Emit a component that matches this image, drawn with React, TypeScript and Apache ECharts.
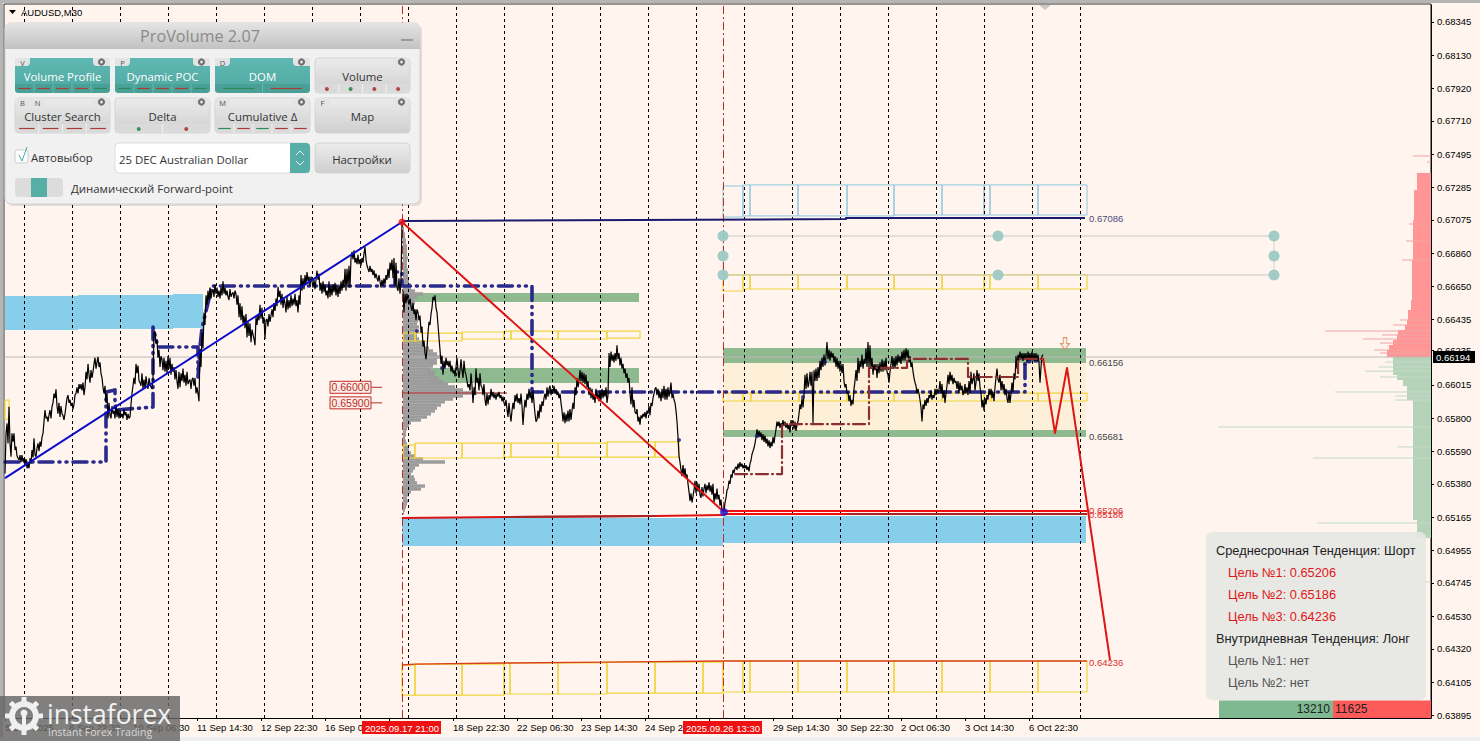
import React, { useEffect, useRef } from "react";
import * as echarts from "echarts";

// ---- data: prices are in 1e-5 units, bars are chart slots on the time axis ----
const priceTicks = [68345,68130,67920,67710,67495,67285,67075,66860,66650,66435,66235,66015,65800,65590,65380,65165,64955,64745,64530,64320,64105,63895];
const timeTicks = [5,69,133,197,261,325,389,453,517,581,645,709,773,837,901,965,1029];
const labelTicks = [5,69,133,197,261,325,453,517,581,645,773,837,901,965,1029];
const timeLabels = ["5 Sep 2025","8 Sep 22:30","10 Sep 06:30","11 Sep 14:30","12 Sep 22:30","16 Sep 06:30","18 Sep 22:30","22 Sep 06:30","23 Sep 14:30","24 Sep 22:30","29 Sep 14:30","30 Sep 22:30","2 Oct 06:30","3 Oct 14:30","6 Oct 22:30"];
const periodBars = [24,72,120,168,216,264,312,360,408,456,504,552,600,648,696,744,792,840,888,936,984,1032,1080];
const markedBars: [number, string][] = [[402,"2025.09.17 21:00"],[723,"2025.09.26 13:30"]];

const rallyPrices = [65447,65700,65768,65640,65875,65640,65554,65704,65650,65704,65597,65619,65560,65544,65533,65565,65520,65565,65522,65545,65512,65540,65480,65510,65480,65544,65510,65597,65550,65672,65565,65554,65610,65640,65590,65651,65619,65680,65704,65780,65854,65800,65811,65780,65822,65854,65800,65875,65900,65960,65930,65987,65880,65830,65900,65810,65880,65830,65820,65790,65830,65880,65930,65950,65900,65920,65880,65900,65860,65890,65950,65960,66000,65960,66020,65990,66020,65980,66030,65950,66000,66100,66050,66150,66080,66030,66110,66060,66100,66150,66190,66120,66160,66196,66130,66160,66090,66060,66000,65960,66010,65900,65960,65800,65900,65820,65800,65880,65830,65850,65800,65890,65810,65860,65800,65850,65810,65830,65800,65860,65820,65840,65790,65830,65800,65810,65890,65960,66010,66060,66020,66150,66090,66140,66040,66030,66010,66090,65990,66050,65990,66070,66020,65990,66060,66020,66000,65990,66060,66350,66360,66280,66300,66190,66240,66130,66200,66180,66110,66190,66100,66170,66090,66200,66120,66190,66080,66150,66100,66130,66050,66110,66040,65990,66100,66000,66090,66040,66120,66030,66080,66010,66100,66020,66040,66050,65990,66050,66060,66010,66060,65960,66000,65960,65910,66240,66130,66350,66250,66480,66400,66590,66530,66620,66560,66640,66570,66610,66630,66580,66660,66600,66640,66580,66620,66570,66640,66590,66680,66600,66640,66590,66620,66580,66560,66630,66580,66600,66610,66570,66620,66600,66530,66590,66450,66540,66430,66520,66410,66460,66380,66470,66320,66420,66330,66410,66290,66370,66340,66310,66270,66450,66400,66470,66430,66530,66440,66510,66410,66450,66310,66430,66440,66390,66470,66420,66460,66500,66450,66540,66490,66570,66520,66645,66580,66620,66530,66600,66510,66570,66540,66480,66580,66500,66560,66510,66590,66520,66570,66530,66600,66520,66560,66480,66590,66530,66720,66620,66700,66630,66720,66660,66740,66680,66710,66650,66710,66680,66640,66690,66630,66690,66750,66690,66730,66620,66670,66600,66680,66610,66660,66590,66620,66570,66680,66580,66650,66590,66660,66610,66670,66590,66650,66580,66660,66600,66680,66620,66690,66640,66760,66620,66760,66640,66780,66640,66830,66870,66820,66880,66800,66830,66790,66850,66790,66820,66780,66830,66800,66860,66900,66820,66780,66760,66740,66780,66740,66760,66720,66750,66700,66730,66700,66680,66720,66680,66640,66690,66650,66700,66660,66720,66690,66760,66700,66800,66750,66820,66700,66830,66650,66800,66640,66620,66700,66600,66680,67060];
const fallPrices = [66620,66480,66600,66540,66600,66560,66530,66570,66520,66490,66540,66470,66500,66430,66500,66480,66430,66460,66350,66390,66260,66300,66220,66180,66250,66350,66420,66400,66470,66510,66580,66560,66590,66510,66480,66400,66320,66240,66150,66200,66080,66170,66120,66190,66140,66170,66130,66170,66100,66140,66090,66110,66070,66130,66190,66110,66060,66110,66180,66110,66060,66170,66100,66080,66040,66000,66020,65980,66090,66010,65900,66000,65950,66120,66030,66060,65980,66090,66010,66000,65950,66020,65920,65880,65960,65890,65950,65920,65990,65940,65970,65930,65960,65920,65960,65940,65970,65930,65950,65910,65940,65900,65880,65920,65860,65810,65900,65830,65780,65850,65900,65860,65950,65910,65960,65900,65930,65890,65960,65880,65758,65850,65920,65870,65960,65920,65990,65930,65970,65900,65980,65900,65830,65780,65790,65850,65800,65890,65840,65910,65880,65930,65960,65920,66000,65940,65990,66010,65950,65990,65960,66010,65960,65990,65950,65970,65930,65960,65900,65850,65780,65840,65770,65830,65780,65850,65780,65860,65790,65850,65900,65860,66000,65950,66060,66000,66040,66110,66040,66100,66030,66090,66020,66080,66000,66040,65950,66000,65930,65990,65920,65950,65900,65990,65930,65960,65910,65980,65920,65990,65930,65980,65940,66000,65900,65950,66220,66130,66230,66170,66210,66160,66220,66170,66270,66180,66220,66140,66190,66120,66150,66090,66120,66060,66090,66030,66060,65960,65890,66000,65870,65920,65840,65830,65860,65780,65810,65760,65820,65800,65830,65810,65840,65800,65850,65830,65880,65820,65900,65880,65930,65960,65990,66000,65950,65990,65930,65970,65910,65990,65930,66010,65920,65990,65920,66000,65940,65980,66030,65930,65960,65920,65900,65850,65780,65680,65560,65520,65470,65430,65500,65430,65480,65420,65440,65380,65330,65270,65320,65260,65300,65340,65400,65320,65390,65330,65380,65310,65290,65360,65300,65350,65380,65320,65370,65340,65390,65330,65370,65310,65380,65260,65320,65280,65350,65280,65310,65240,65280,65210,65220];
const rangePrices = [65199,65260,65290,65340,65350,65400,65380,65440,65420,65470,65450,65480,65490,65470,65510,65480,65520,65490,65510,65480,65500,65480,65500,65470,65490,65460,65510,65530,65570,65590,65610,65640,65680,65730,65680,65720,65680,65710,65660,65700,65650,65690,65640,65670,65620,65660,65610,65650,65620,65680,65640,65690,65730,65780,65750,65780,65740,65770,65750,65790,65750,65780,65740,65770,65730,65760,65710,65790,65750,65790,65730,65780,65720,65760,65780,65830,65890,65860,65930,65870,65950,66080,65990,66090,66000,66030,66100,66010,66100,65770,66110,66040,66120,66040,66130,66060,66170,66110,66190,66130,66210,66140,66200,66290,66180,66240,66170,66230,66190,66220,66160,66200,66130,66190,66120,66170,66100,66150,66090,66150,66040,66000,66020,65960,65970,65910,65950,65880,65920,65890,65990,66040,66110,66040,66190,66090,66170,66130,66210,66120,66180,66150,66250,66130,66290,66130,66270,66120,66190,66080,66150,66110,66150,66060,66150,66090,66160,66100,66180,66100,66170,66110,66190,66100,66080,66030,66100,66150,66200,66120,66190,66120,66200,66140,66210,66160,66200,66150,66230,66170,66240,66170,66250,66190,66240,66160,66200,66130,66160,66100,66060,66030,66010,65960,65990,65960,65920,65870,65780,65890,65860,65920,65880,65930,65900,65950,65930,65980,65920,65950,65930,65990,65950,65990,65960,65980,66040,65960,66020,65930,65980,65900,65960,66010,66080,66020,66100,66040,66080,66020,66060,66030,66040,65990,66040,65960,66030,65980,66010,65950,65970,66020,65960,66000,65950,66040,65960,66100,66020,66050,66090,65980,66030,66110,66040,66090,66000,65960,65870,65920,65850,65930,65890,65950,65920,65990,65950,65990,65930,65970,65910,66000,66060,66120,66050,66030,66080,65980,66040,65980,66020,65950,65990,65930,65900,65970,65900,65960,66030,65970,66090,66050,66200,66120,66210,66170,66230,66180,66220,66170,66220,66180,66220,66160,66230,66180,66220,66170,66230,66170,66220,66170,66220,66170,66210,66160,66030,66130,66200,66210];

type Box = [number, number, number, number];
const blueZones: Box[] = [[5,78,66586,66368],[78,173,66592,66374],[173,203,66599,66381],[402,723,65161,64981],[723,1086,65174,65000]];
const greenZones: Box[] = [[408,639,66605,66547],[428,639,66124,66028],[723,1086,66252,66156],[723,1086,65726,65681]];
const orangeZones: Box[] = [[723,1086,66156,65726]];
const yellowBoxes: Box[] = [
  [5,9,65918,65796],
  [403,415,66348,66297],[415,462,66348,66297],[462,504,66355,66310],[504,511,66361,66310],[511,558,66361,66310],[558,607,66361,66310],[607,640,66361,66316],
  [403,415,65629,65546],[415,462,65642,65546],[462,504,65642,65546],[504,511,65642,65552],[511,558,65642,65552],[558,607,65642,65552],[607,655,65649,65552],[655,679,65649,65552],
  [723,743,65963,65912],[743,751,65963,65912],[751,799,65963,65912],[799,847,65963,65912],[847,894,65963,65912],[894,942,65963,65912],[942,984,65963,65912],[984,991,65963,65912],[991,1038,65963,65912],[1038,1087,65963,65912],
  [723,743,66721,66618],[743,750,66721,66631],[750,798,66721,66631],[798,847,66721,66631],[847,894,66721,66631],[894,942,66721,66631],[942,984,66721,66631],[984,990,66721,66631],[990,1038,66721,66631],[1038,1087,66721,66631],
  [402,415,64217,64024],[415,462,64223,64024],[462,504,64223,64024],[504,510,64230,64031],[510,558,64230,64031],[558,607,64230,64031],[607,655,64236,64037],[655,703,64236,64037],[703,723,64236,64037],[723,743,64243,64044],[743,750,64243,64044],[750,798,64243,64044],[798,847,64243,64044],[847,894,64243,64044],[894,942,64243,64044],[942,990,64243,64044],[990,1038,64243,64044],[1038,1087,64243,64044],
];
const skyBoxes: Box[] = [[723,743,67292,67093],[743,750,67299,67100],[750,798,67299,67100],[798,847,67299,67100],[847,894,67299,67100],[894,942,67299,67106],[942,984,67299,67106],[984,990,67299,67106],[990,1038,67299,67106],[1038,1087,67299,67106]];

type Pt = [number, number];
const navyLevel: Pt[] = [[402,67067],[846,67080],[846,67086],[1085,67086]];
const guideTop: Pt[] = [[723,66971],[1274,66971]];
const guideBottom: Pt[] = [[723,66721],[1274,66721]];
const bullTrend: Pt[] = [[5,65417],[402,67061]];
const bearTrend: Pt[] = [[402,67061],[724,65199]];
const supportLeft: Pt[] = [[402,65161],[504,65167],[655,65174],[723,65180]];
const supportDark: Pt[] = [[504,65167],[655,65174]];
const target1: Pt[] = [[723,65206],[1087,65206]];
const target2: Pt[] = [[723,65186],[1087,65186]];
const target2Dark: Pt[] = [[847,65186],[1087,65186]];
const target3: Pt[] = [[402,64217],[415,64223],[504,64230],[607,64236],[723,64243],[1087,64243]];
const forecast: Pt[] = [[1043,66188],[1055,65706],[1067,66124],[1110,64249]];
const lastPrice = 66194;
const pocNavy: Pt[] = [[5,65520],[106,65520],[106,65970],[115,65983],[115,65854],[153,65873],[153,66387],[158,66259],[198,66259],[198,66066],[200,66259],[202,66380],[212,66650],[395,66650],[395,66740],[402,66740],[402,66650],[532,66650],[532,65970],[1025,65970],[1025,66162],[1042,66175]];
const pocMaroon: Pt[] = [[735,65443],[782,65443],[782,65764],[869,65764],[869,66124],[907,66124],[907,66182],[968,66182],[968,66066],[1018,66066],[1018,66182],[1043,66182]];
const profilePoc: Pt[] = [[403,65963],[507,65963]];
const anchorDots: Pt[] = [[723,66971],[723,66843],[723,66721],[998,66971],[998,66721],[1274,66971],[1274,66843],[1274,66721]];
const swingHigh: Pt = [402,67061];
const swingLow: Pt = [724,65199];
const smallDots: Pt[] = [[417,66361],[442,66124],[679,65662],[757,65687],[825,66162],[803,65937],[1025,66150]];
const chipLevels: [number, string][] = [[66000,"0.66000"],[65900,"0.65900"]];
const levelTags: [number, number, string, string][] = [
  [1089,67086,"0.67086","#4a4a7a"],[1089,66156,"0.66156","#444444"],[1089,65681,"0.65681","#444444"],
  [1089,65206,"0.65206","#e03030"],[1089,65186,"0.65186","#e03030"],[1089,64236,"0.64236","#e03030"],
];
const profileRows: [number, number][] = [[67022,1],[67003,1],[66984,2],[66965,2],[66945,3],[66926,3],[66907,4],[66888,4],[66868,4],[66849,4],[66830,5],[66811,4],[66791,4],[66772,4],[66753,5],[66734,5],[66714,5],[66695,6],[66676,6],[66657,8],[66637,8],[66618,12],[66599,20],[66580,14],[66560,11],[66541,12],[66522,11],[66503,10],[66483,14],[66464,12],[66445,16],[66426,15],[66406,14],[66387,16],[66368,14],[66348,14],[66329,14],[66310,16],[66291,20],[66271,22],[66252,26],[66233,30],[66214,34],[66194,40],[66175,34],[66156,34],[66137,30],[66117,28],[66098,32],[66079,32],[66060,36],[66040,40],[66021,45],[66002,52],[65983,60],[65963,74],[65944,60],[65925,50],[65906,42],[65886,38],[65867,34],[65848,32],[65829,28],[65809,24],[65790,18],[65771,8],[65752,6],[65732,4],[65713,3],[65694,3],[65675,2],[65655,3],[65636,4],[65617,5],[65598,6],[65578,8],[65559,12],[65540,20],[65520,42],[65501,16],[65482,12],[65463,10],[65443,8],[65424,11],[65405,12],[65386,14],[65366,22],[65347,18],[65328,8],[65309,6],[65289,4],[65270,5],[65251,4],[65232,3],[65212,2],[65193,1]];
const domAsks: [number, number, number][] = [[67376,67266,14],[67266,67074,17],[67074,66817,18],[66817,66560,19],[66560,66496,20],[66496,66432,23],[66432,66400,24],[66400,66368,26],[66368,66336,33],[66336,66303,34],[66303,66271,38],[66271,66239,42],[66239,66194,44]];
const domBids: [number, number, number][] = [[66194,66079,38],[66079,66047,34],[66047,66008,28],[66008,65918,24],[65918,65148,18],[65148,65032,14]];
const askSpikes: Pt[] = [[67485,18],[67446,4],[67048,22],[66939,25],[66817,29],[66432,31],[66400,38],[66361,106],[66336,49],[66310,68],[66284,51],[66239,57],[66220,51]];
const bidSpikes: Pt[] = [[66162,46],[66130,53],[66104,66],[66066,51],[65970,96],[65944,36],[65918,36],[65745,213],[65617,34],[65546,118],[65129,114],[65045,21],[64750,190]];
const imbalance = { buy: 13210, sell: 11625 };

const buttons = [
  { label: "Volume Profile", on: true, tags: ["V"], strip: "rrrrg", dots: false },
  { label: "Dynamic POC", on: true, tags: ["P"], strip: "grrrg", dots: false },
  { label: "DOM", on: true, tags: ["D"], strip: "gr", dots: false },
  { label: "Volume", on: false, tags: [] as string[], strip: "rgrr", dots: true },
  { label: "Cluster Search", on: false, tags: ["B", "N"], strip: "rrrr", dots: false },
  { label: "Delta", on: false, tags: [] as string[], strip: "gr", dots: true },
  { label: "Cumulative Δ", on: false, tags: ["M"], strip: "grgrr", dots: false },
  { label: "Map", on: false, tags: ["F"], strip: "", dots: false },
];
const trendLines: [string, string][] = [
  ["Среднесрочная Тенденция: Шорт", "#222222"],
  ["   Цель №1: 0.65206", "#e01818"],
  ["   Цель №2: 0.65186", "#e01818"],
  ["   Цель №3: 0.64236", "#e01818"],
  ["Внутридневная Тенденция: Лонг", "#222222"],
  ["   Цель №1: нет", "#555555"],
  ["   Цель №2: нет", "#555555"],
];

// ---- helpers ----
const P = (v: number) => v / 1e5;
const toPts = (pts: Pt[]) => pts.map(([x, y]) => [x, P(y)]);
const fromBar = (start: number, prices: number[]) => prices.map((p, i) => [start + i, P(p)]);
const SANS = '"Liberation Sans"';
const OPEN = '"Open Sans"';

function lineS(pts: Pt[], color: string, width: number, z: number, dash?: number[], cap?: string) {
  return {
    type: "line", data: toPts(pts), symbol: "none", z, silent: true, clip: false, animation: false,
    lineStyle: { color, width, type: dash || "solid", cap: cap || "butt", join: "round" },
  };
}
function boxS(list: Box[], style: any, z: number) {
  return {
    type: "custom", coordinateSystem: "cartesian2d", z, silent: true, clip: false,
    data: list.map((b) => [b[0], P(b[2])]),
    renderItem: (params: any, api: any) => {
      const b = list[params.dataIndex];
      const a = api.coord([b[0], P(b[2])]);
      const c = api.coord([b[1], P(b[3])]);
      return { type: "rect", shape: { x: a[0], y: a[1], width: c[0] - a[0], height: c[1] - a[1] }, style };
    },
  };
}
function domBlockS(list: [number, number, number][], fill: string, z: number) {
  return {
    type: "custom", coordinateSystem: "cartesian2d", z, silent: true, clip: false,
    data: list.map((b) => [1431, P(b[0])]),
    renderItem: (params: any, api: any) => {
      const b = list[params.dataIndex];
      const a = api.coord([1431 - b[2], P(b[0])]);
      const c = api.coord([1431, P(b[1])]);
      return { type: "rect", shape: { x: a[0], y: a[1], width: c[0] - a[0], height: c[1] - a[1] }, style: { fill } };
    },
  };
}
function spikeS(list: Pt[], color: string, z: number) {
  return {
    type: "custom", coordinateSystem: "cartesian2d", z, silent: true, clip: false,
    data: list.map((b) => [1431, P(b[0])]),
    renderItem: (params: any, api: any) => {
      const b = list[params.dataIndex];
      const a = api.coord([1431 - b[1], P(b[0])]);
      return { type: "line", shape: { x1: a[0], y1: a[1], x2: 1431, y2: a[1] }, style: { stroke: color, lineWidth: 1 } };
    },
  };
}
function txt(text: string, x: number, y: number, fill: string, font: string, align = "left", z = 60) {
  return {
    type: "text", z, silent: true,
    style: { text, x, y, fill, font, align, textAlign: align, verticalAlign: "middle", textVerticalAlign: "middle" },
  };
}
function box(x: number, y: number, w: number, h: number, fill: any, r: any = 0, stroke?: string, z = 60, opacity = 1) {
  return {
    type: "rect", z, silent: true,
    shape: { x, y, width: w, height: h, r },
    style: { fill, stroke: stroke || "none", lineWidth: stroke ? 1 : 0, opacity },
  };
}
function seg(x1: number, y1: number, x2: number, y2: number, stroke: string, lineWidth = 1, z = 60) {
  return { type: "line", z, silent: true, shape: { x1, y1, x2, y2 }, style: { stroke, lineWidth } };
}
const grad = (a: string, b: string) =>
  new echarts.graphic.LinearGradient(0, 0, 0, 1, [{ offset: 0, color: a }, { offset: 1, color: b }]);

function panelGraphics() {
  const g: any[] = [];
  g.push(box(7, 25, 415, 181, "rgba(0,0,0,0.10)", 6, undefined, 59));
  g.push(box(5, 23, 415, 181, "#f1f1f1", 6, "#d0d0d0"));
  g.push(box(5, 23, 415, 26, grad("#e4e4e4", "#c2c2c2"), [6, 6, 0, 0]));
  g.push(txt("ProVolume 2.07", 200, 36, "#8a8a8a", `16.2px ${OPEN}`, "center"));
  g.push(box(401, 39, 12, 2, "#9a9a9a"));
  buttons.forEach((b, i) => {
    const col = i % 4, row = Math.floor(i / 4);
    const x = 15 + col * 100, y = 58 + row * 40, w = 95, h = 35;
    g.push(box(x, y, w, h, b.on ? grad("#5fb8b1", "#4fa8a1") : grad("#ececec", "#cfcfcf"), 4, b.on ? undefined : "#d4d4d4"));
    g.push(txt(b.label, x + w / 2, y + 18, b.on ? "#ffffff" : "#333333", `11.4px ${OPEN}`, "center"));
    b.tags.forEach((t, k) => {
      g.push(box(x + k * 15, y, 15, 8, "#e4e4e4", [0, 0, 4, 0]));
      g.push(txt(t, x + 7.5 + k * 15, y + 4.5, "#555555", `7.5px ${OPEN}`, "center"));
    });
    g.push(box(x + w - 17, y, 17, 8, "#e4e4e4", [0, 0, 0, 4]));
    g.push({ type: "ring", z: 61, silent: true, shape: { cx: x + w - 8.5, cy: y + 4, r: 3.6, r0: 1.4 }, style: { fill: "#707070" } });
    if (b.strip) {
      const n = b.strip.length, sw = w / n, sy = y + 26;
      g.push(box(x, sy, w, 9, b.on ? "#4aa097" : "#dadada", [0, 0, 4, 4]));
      b.strip.split("").forEach((c, k) => {
        const color = c === "g" ? "#3f8f5a" : "#b04a40";
        const cx = x + sw * (k + 0.5);
        if (b.dots) g.push({ type: "circle", z: 61, silent: true, shape: { cx, cy: sy + 5, r: 2 }, style: { fill: color } });
        else g.push(seg(cx - sw * 0.33, sy + 4.5, cx + sw * 0.33, sy + 4.5, c === "g" ? "#2e8a5a" : "#a83b33", 1.2, 61));
        if (k > 0) g.push(seg(x + sw * k, sy, x + sw * k, sy + 9, b.on ? "#5fb8b1" : "#f0f0f0", 1, 61));
      });
    }
  });
  g.push(box(15, 150, 13, 13, "#ffffff", 2, "#cccccc"));
  g.push({ type: "polyline", z: 61, silent: true, shape: { points: [[19, 155], [22, 161], [27, 147]] }, style: { stroke: "#4fa8a1", lineWidth: 1, fill: "none" } });
  g.push(txt("Автовыбор", 31, 157, "#333333", `11.4px ${OPEN}`));
  g.push(box(115, 143, 195, 30, "#ffffff", 4, "#dddddd"));
  g.push(txt("25 DEC Australian Dollar", 119, 159, "#333333", `11.4px ${OPEN}`));
  g.push(box(290, 143, 20, 30, "#56aea7", [0, 4, 4, 0]));
  g.push({ type: "polyline", z: 61, silent: true, shape: { points: [[296, 155], [300, 151], [304, 155]] }, style: { stroke: "#e8f4f3", lineWidth: 1, fill: "none" } });
  g.push({ type: "polyline", z: 61, silent: true, shape: { points: [[296, 161], [300, 165], [304, 161]] }, style: { stroke: "#e8f4f3", lineWidth: 1, fill: "none" } });
  g.push(box(315, 143, 95, 30, grad("#ececec", "#cfcfcf"), 4, "#d4d4d4"));
  g.push(txt("Настройки", 362, 159, "#333333", `11.4px ${OPEN}`, "center"));
  g.push(box(15, 178, 48, 19, "#dcdcdc", 4));
  g.push(box(31, 178, 16, 19, "#56aea7"));
  g.push(txt("Динамический Forward-point", 71, 188, "#333333", `11.4px ${OPEN}`));
  return g;
}
function targetsGraphics() {
  const g: any[] = [box(1206, 532, 220, 168, "#e6e6e4", 6, undefined, 60, 0.93)];
  trendLines.forEach(([t, c], i) => {
    const indented = t.startsWith("   ");
    g.push(txt(t.trim(), indented ? 1228 : 1216, 550 + i * 22, c, `12.8px ${SANS}`));
  });
  return g;
}
function logoGraphics() {
  const g: any[] = [box(0, 696, 180, 45, "#666666", 0, undefined, 70, 0.82)];
  const cx = 24, cy = 716;
  g.push({ type: "ring", z: 71, silent: true, shape: { cx, cy, r: 15, r0: 9 }, style: { fill: "#f0f0f0" } });
  for (let i = 0; i < 8; i++) {
    g.push({
      type: "rect", z: 71, silent: true, x: cx, y: cy, rotation: (i * Math.PI) / 4,
      shape: { x: -2.5, y: -19, width: 5, height: 6 }, style: { fill: "#f0f0f0" },
    });
  }
  g.push({ type: "circle", z: 71, silent: true, shape: { cx, cy: cy - 3, r: 3.5 }, style: { fill: "#f0f0f0" } });
  g.push({ type: "rect", z: 71, silent: true, shape: { x: cx - 2, y: cy, width: 4, height: 11 }, style: { fill: "#f0f0f0" } });
  g.push(txt("instaforex", 47, 714, "#f2f2f2", `26.5px ${OPEN}`, "left", 71));
  g.push(txt("Instant Forex Trading", 48, 732, "#d8d8d8", `10.5px ${OPEN}`, "left", 71));
  return g;
}
function frameGraphics() {
  return [
    box(0, 0, 1480, 3, "#b5b5b5", 0, undefined, 1),
    box(0, 0, 3, 741, "#b5b5b5", 0, undefined, 1),
    box(0, 737, 1480, 4, "#efefef", 0, undefined, 1),
    seg(4, 4, 1431, 4, "#333333", 1, 1),
    seg(4, 4, 4, 718, "#333333", 1, 1),
    seg(1431, 4, 1431, 718, "#111111", 1, 1),
    { type: "polygon", z: 2, silent: true, shape: { points: [[9, 10], [16, 10], [12.5, 14]] }, style: { fill: "#000000" } },
    txt("AUDUSD,M30", 21, 12, "#000000", `9.5px ${SANS}`, "left", 2),
    { type: "polygon", z: 2, silent: true, shape: { points: [[1039, 5], [1051, 5], [1045, 10]] }, style: { fill: "#c8c8c8" } },
  ];
}

function buildOption(): any {
  const series: any[] = [];
  // vertical period separators
  series.push({
    type: "line", data: [], z: 3, silent: true,
    markLine: {
      silent: true, symbol: "none", label: { show: false }, animation: false,
      lineStyle: { color: "#000000", width: 1, type: [3, 3] },
      data: periodBars.map((b) => ({ xAxis: b })),
    },
  });
  series.push({
    type: "line", data: [], z: 3, silent: true,
    markLine: {
      silent: true, symbol: "none", label: { show: false }, animation: false,
      lineStyle: { color: "#c02a2a", width: 1, type: [8, 3, 2, 3] },
      data: markedBars.map((b) => ({ xAxis: b[0] })),
    },
  });
  series.push(boxS(blueZones, { fill: "#87ceeb" }, 2));
  series.push(boxS(orangeZones, { fill: "#fdefd8" }, 2));
  series.push(boxS(greenZones, { fill: "#8fb98f" }, 2));
  series.push(lineS([[5, lastPrice], [1431, lastPrice]], "#bdb8b6", 1, 3));
  // volume profile
  series.push({
    type: "custom", coordinateSystem: "cartesian2d", z: 3, silent: true, clip: false,
    data: profileRows.map((r) => [403, P(r[0])]),
    renderItem: (params: any, api: any) => {
      const r = profileRows[params.dataIndex];
      const a = api.coord([403, P(r[0])]);
      const c = api.coord([403 + r[1], P(r[0])]);
      return { type: "rect", shape: { x: a[0], y: a[1] - 1.7, width: c[0] - a[0], height: 3.4 }, style: { fill: "#9c9c9c" } };
    },
  });
  series.push(lineS(profilePoc, "#b05050", 1.6, 4));
  // dom
  series.push(domBlockS(domAsks, "#ff9595", 3));
  series.push(domBlockS(domBids, "#b5d3b9", 3));
  series.push(spikeS(askSpikes, "#f3a3a3", 3));
  series.push(spikeS(bidSpikes, "#c3d8c8", 3));
  // boxes
  series.push(boxS(skyBoxes, { fill: "none", stroke: "#8cc6de", lineWidth: 1 }, 4));
  series.push(boxS(yellowBoxes, { fill: "none", stroke: "#f0d63c", lineWidth: 1.2 }, 4));
  // guide lines and anchors
  series.push(lineS(guideTop, "#c9c9c9", 1, 4));
  series.push(lineS(guideBottom, "#c9c9c9", 1, 4));
  series.push(lineS([[723, 66971], [723, 66721]], "#d4d4d4", 1, 4));
  series.push(lineS([[1274, 66971], [1274, 66721]], "#d4d4d4", 1, 4));
  series.push({
    type: "scatter", data: toPts(anchorDots), symbolSize: 11, z: 5, silent: true,
    itemStyle: { color: "#9cc9c4", opacity: 0.95 },
  });
  // step lines
  series.push(lineS(pocNavy, "#2a2a8c", 3.6, 5, [14, 6, 1, 6, 1, 6], "round"));
  // price
  const priceStyle = { color: "#000000", width: 1.2 };
  [fromBar(5, rallyPrices), fromBar(403, fallPrices), fromBar(724, rangePrices)].forEach((d) =>
    series.push({ type: "line", data: d, symbol: "none", z: 6, silent: true, lineStyle: priceStyle })
  );
  series.push(lineS(pocMaroon, "#8a3030", 2.2, 7, [12, 4, 1, 4], "round"));
  series.push({
    type: "scatter", data: toPts(smallDots), symbolSize: 4, z: 7, silent: true, itemStyle: { color: "#1a1a70" },
  });
  // levels and trend lines
  series.push(lineS(navyLevel, "#1a1a6e", 2, 8));
  series.push(lineS(bullTrend, "#0c0cc8", 2, 8));
  series.push(lineS(bearTrend, "#dc1414", 2, 8));
  series.push(lineS(supportLeft, "#dc1414", 2, 8));
  series.push(lineS(supportDark, "#a82525", 2, 8));
  series.push(lineS(target1, "#ee1010", 2, 8));
  series.push(lineS(target2, "#ee1010", 2, 8));
  series.push(lineS(target2Dark, "#a82525", 2, 8));
  series.push(lineS(target3, "#d8401a", 1.4, 8));
  series.push(lineS(forecast, "#e01414", 2, 8));
  series.push({ type: "scatter", data: toPts([swingHigh]), symbolSize: 7, z: 9, silent: true, itemStyle: { color: "#ee1010" } });
  series.push({ type: "scatter", data: toPts([swingLow]), symbolSize: 8, z: 9, silent: true, itemStyle: { color: "#1414d8" } });
  series.push({
    type: "scatter", data: toPts([[1065, 66280]]), z: 9, silent: true,
    symbol: "path://M3 0H7V6H10L5 12L0 6H3Z", symbolSize: [9, 12],
    itemStyle: { color: "#fbeee0", borderColor: "#d07a50", borderWidth: 1 },
  });
  // level tags
  series.push({
    type: "custom", coordinateSystem: "cartesian2d", z: 9, silent: true, clip: false,
    data: levelTags.map((t) => [t[0], P(t[1])]),
    renderItem: (params: any, api: any) => {
      const t = levelTags[params.dataIndex];
      const a = api.coord([t[0], P(t[1])]);
      return { type: "text", style: { text: t[2], x: a[0], y: a[1], fill: t[3], font: `9.5px ${SANS}`, align: "left", verticalAlign: "middle", textVerticalAlign: "middle" } };
    },
  });
  // price chips
  series.push({
    type: "custom", coordinateSystem: "cartesian2d", z: 9, silent: true, clip: false,
    data: chipLevels.map((c) => [330, P(c[0])]),
    renderItem: (params: any, api: any) => {
      const c = chipLevels[params.dataIndex];
      const a = api.coord([330, P(c[0])]);
      const e = api.coord([371, P(c[0])]);
      const f = api.coord([382, P(c[0])]);
      return {
        type: "group",
        children: [
          { type: "rect", shape: { x: a[0], y: a[1] - 6, width: e[0] - a[0], height: 12 }, style: { fill: "#fbeee6", stroke: "#c02a2a", lineWidth: 1 } },
          { type: "line", shape: { x1: e[0], y1: a[1], x2: f[0], y2: a[1] }, style: { stroke: "#c02a2a", lineWidth: 1 } },
          { type: "text", style: { text: c[1], x: (a[0] + e[0]) / 2, y: a[1], fill: "#c02a2a", font: `10.5px ${SANS}`, align: "center", textAlign: "center", verticalAlign: "middle", textVerticalAlign: "middle" } },
        ],
      };
    },
  });
  // time flags on the axis
  series.push({
    type: "custom", coordinateSystem: "cartesian2d", z: 20, silent: true, clip: false,
    data: markedBars.map((m) => [m[0], P(63877)]),
    renderItem: (params: any, api: any) => {
      const m = markedBars[params.dataIndex];
      const a = api.coord([m[0], P(63877)]);
      return {
        type: "group",
        children: [
          { type: "rect", shape: { x: a[0] - 40, y: a[1] + 3, width: 79, height: 13 }, style: { fill: "#ee1111" } },
          { type: "text", style: { text: m[1], x: a[0], y: a[1] + 10, fill: "#ffffff", font: `9.5px ${SANS}`, align: "center", textAlign: "center", verticalAlign: "middle", textVerticalAlign: "middle" } },
        ],
      };
    },
  });
  // current price flag
  series.push({
    type: "custom", coordinateSystem: "cartesian2d", z: 20, silent: true, clip: false,
    data: [[1431, P(lastPrice)]],
    renderItem: (_p: any, api: any) => {
      const a = api.coord([1431, P(lastPrice)]);
      return {
        type: "group",
        children: [
          { type: "rect", shape: { x: a[0] + 2, y: a[1] - 6, width: 42, height: 12 }, style: { fill: "#000000" } },
          { type: "text", style: { text: P(lastPrice).toFixed(5), x: a[0] + 5, y: a[1], fill: "#ffffff", font: `9.5px ${SANS}`, align: "left", verticalAlign: "middle", textVerticalAlign: "middle" } },
        ],
      };
    },
  });
  // imbalance bar
  series.push(boxS([[1219, 1333, 63990, 63877]], { fill: "#7fb992" }, 21));
  series.push(boxS([[1333, 1431, 63990, 63877]], { fill: "#ff5a5a" }, 21));
  series.push({
    type: "custom", coordinateSystem: "cartesian2d", z: 22, silent: true, clip: false,
    data: [[1333, P(63935)]],
    renderItem: (_p: any, api: any) => {
      const a = api.coord([1333, P(63935)]);
      return {
        type: "group",
        children: [
          { type: "text", style: { text: String(imbalance.buy), x: a[0] - 3, y: a[1], fill: "#222222", font: `12px ${SANS}`, align: "right", textAlign: "right", verticalAlign: "middle", textVerticalAlign: "middle" } },
          { type: "text", style: { text: String(imbalance.sell), x: a[0] + 2, y: a[1], fill: "#222222", font: `12px ${SANS}`, align: "left", verticalAlign: "middle", textVerticalAlign: "middle" } },
        ],
      };
    },
  });

  return {
    animation: false,
    backgroundColor: "#fff5ee",
    grid: { left: 5, right: 49, top: 5, bottom: 23, containLabel: false, show: false },
    xAxis: {
      type: "value", min: 5, max: 1431, position: "bottom",
      axisLine: { show: true, onZero: false, lineStyle: { color: "#000000", width: 1 } },
      axisTick: { show: true, length: 3, inside: false, customValues: timeTicks, lineStyle: { color: "#000000" } },
      axisLabel: {
        show: true, margin: 4, align: "left", color: "#000000", fontFamily: "Liberation Sans", fontSize: 9.5,
        customValues: labelTicks,
        formatter: (v: number) => timeLabels[labelTicks.indexOf(v)] || "",
      },
      splitLine: { show: false },
    },
    yAxis: {
      type: "value", min: P(63877), max: P(68454), position: "right",
      axisLine: { show: true, onZero: false, lineStyle: { color: "#000000", width: 1 } },
      axisTick: { show: true, length: 3, customValues: priceTicks.map(P), lineStyle: { color: "#000000" } },
      axisLabel: {
        show: true, margin: 6, color: "#000000", fontFamily: "Liberation Sans", fontSize: 9.5,
        customValues: priceTicks.map(P),
        formatter: (v: number) => v.toFixed(5),
      },
      splitLine: { show: false },
    },
    graphic: { elements: [...frameGraphics(), ...panelGraphics(), ...targetsGraphics(), ...logoGraphics()] },
    series,
  };
}

export default function App() {
  const ref = useRef<HTMLDivElement>(null);
  useEffect(() => {
    document.body.style.margin = "0";
    document.body.style.background = "#fff5ee";
    const chart = echarts.init(ref.current!, undefined, { renderer: "svg" });
    chart.setOption(buildOption());
    return () => chart.dispose();
  }, []);
  return <div ref={ref} style={{ width: 1480, height: 741 }} />;
}
